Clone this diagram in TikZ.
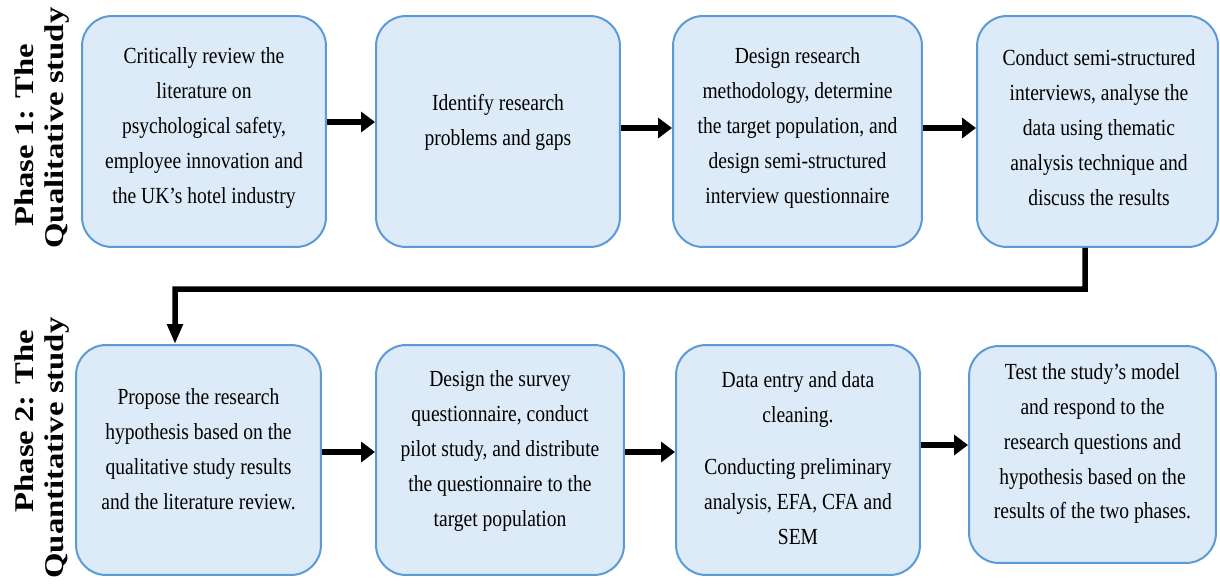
\documentclass[tikz,border=0pt]{standalone}
\usepackage{fontspec}
\setmainfont{Liberation Serif}[FakeStretch=0.85]
\newfontfamily\phasefont{Liberation Serif}[FakeStretch=1.21]
\usetikzlibrary{arrows.meta}
\definecolor{boxfill}{RGB}{221,234,247}
\definecolor{boxline}{RGB}{91,155,213}
\begin{document}
\begin{tikzpicture}[x=0.02cm,y=-0.02cm,
 box/.style={draw=boxline, fill=boxfill, line width=0.04cm, rounded corners=0.6cm, inner sep=0pt},
 txt/.style={align=center, font=\fontsize{13.1}{19.9}\selectfont, inner sep=0pt},
 phase/.style={rotate=90, align=center, font=\phasefont\bfseries\fontsize{15.4}{17.1}\selectfont, inner sep=0pt},
 harrow/.style={line width=0.13cm, -{Triangle[length=0.28cm,width=0.4cm]}},
 varrow/.style={line width=0.11cm, line join=miter, -{Triangle[length=0.4cm,width=0.3cm]}}]
\useasboundingbox (0,0) rectangle (1220,583);
% boxes
\node[box, minimum width=4.88cm, minimum height=4.62cm] (b1) at (204,131.5) {};
\node[box, minimum width=4.88cm, minimum height=4.62cm] (b2) at (498,131.5) {};
\node[box, minimum width=4.98cm, minimum height=4.62cm] (b3) at (797.5,131.5) {};
\node[box, minimum width=4.82cm, minimum height=4.62cm] (b4) at (1097.5,131.5) {};
\node[box, minimum width=4.90cm, minimum height=4.60cm] (b5) at (198.5,460) {};
\node[box, minimum width=4.96cm, minimum height=4.60cm] (b6) at (500,460) {};
\node[box, minimum width=4.88cm, minimum height=4.60cm] (b7) at (798,460) {};
\node[box, minimum width=4.94cm, minimum height=4.34cm] (b8) at (1092.5,454.5) {};
% texts
\node[txt] (t1) at (204,128) {Critically review the\\literature on\\psychological safety,\\employee innovation and\\the UK’s hotel industry};
\node[txt] (t2) at (498,122) {Identify research\\problems and gaps};
\node[txt] (t3) at (797.5,128) {Design research\\methodology, determine\\the target population, and\\design semi-structured\\interview questionnaire};
\node[txt] (t4) at (1099,128) {Conduct semi-structured\\interviews, analyse the\\data using thematic\\analysis technique and\\discuss the results};
\node[txt] (t5) at (198.5,449.5) {Propose the research\\hypothesis based on the\\qualitative study results\\and the literature review.};
\node[txt] (t6) at (500,451) {Design the survey\\questionnaire, conduct\\pilot study, and distribute\\the questionnaire to the\\target population};
\node[txt] (t7) at (798,458) {Data entry and data\\cleaning.\\[0.34cm]Conducting preliminary\\analysis, EFA, CFA and\\SEM};
\node[txt] (t8) at (1092.5,443.5) {Test the study’s model\\and respond to the\\research questions and\\hypothesis based on the\\results of the two phases.};
% phase labels
\node[phase] (p1) at (42,128) {Phase 1: The\hspace*{0.3cm}\\Qualitative study};
\node[phase] (p2) at (42,448) {\hspace*{1.08cm}Phase 2: The\\Quantitative study};
% arrows
\draw[harrow] ([yshift=0.19cm]b1.east) -- ([yshift=0.19cm]b2.west);
\draw[harrow] ([yshift=0.07cm]b2.east) -- ([yshift=0.07cm]b3.west);
\draw[harrow] ([yshift=0.07cm]b3.east) -- ([yshift=0.07cm]b4.west);
\draw[harrow] ([yshift=0.16cm]b5.east) -- ([yshift=0.16cm]b6.west);
\draw[harrow] ([yshift=0.16cm]b6.east) -- ([yshift=0.16cm]b7.west);
\draw[harrow] ([yshift=0.3cm]b7.east) -- ([yshift=0.3cm]b7.east -| b8.west);
\coordinate (k) at (175,289);
\draw[varrow] ([xshift=-0.25cm]b4.south) |- (k) -- ([xshift=-0.47cm]b5.north);
\end{tikzpicture}
\end{document}
